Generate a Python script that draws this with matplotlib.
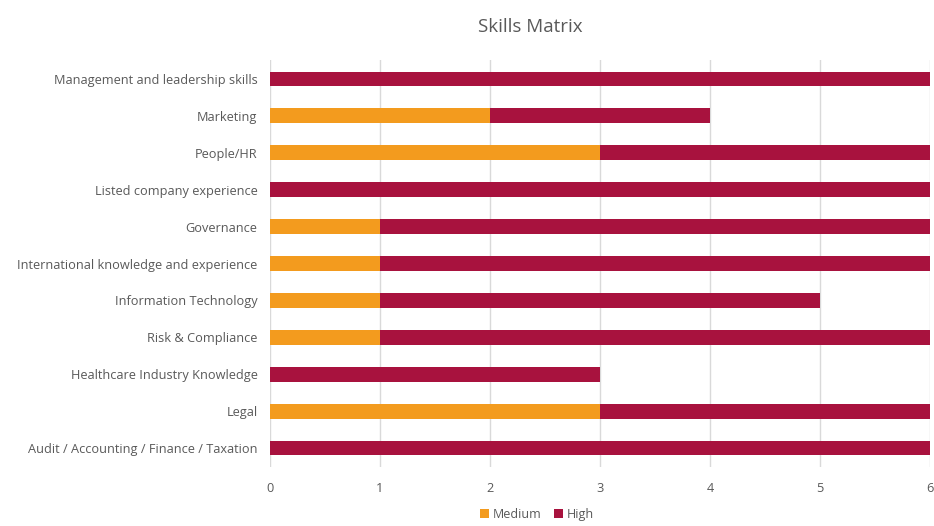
import matplotlib.pyplot as plt
import numpy as np

categories = [
    "Management and leadership skills",
    "Marketing",
    "People/HR",
    "Listed company experience",
    "Governance",
    "International knowledge and experience",
    "Information Technology",
    "Risk & Compliance",
    "Healthcare Industry Knowledge",
    "Legal",
    "Audit / Accounting / Finance / Taxation",
]
medium = [0, 2, 3, 0, 1, 1, 1, 1, 0, 3, 0]
high = [6, 2, 3, 6, 5, 5, 4, 5, 3, 3, 6]

ORANGE = "#F39B1E"
CRIMSON = "#A8123E"
TEXT = "#595959"

plt.rcParams["font.family"] = ["Open Sans", "DejaVu Sans"]

fig = plt.figure(figsize=(9.34, 5.26), dpi=100)
ax = fig.add_axes([0.289, 0.113, 0.7067, 0.772])

y = np.arange(len(categories))
ax.barh(y, medium, height=0.4, color=ORANGE, label="Medium", zorder=3)
ax.barh(y, high, left=medium, height=0.4, color=CRIMSON, label="High", zorder=3)

ax.set_ylim(len(categories) - 0.5, -0.5)
ax.set_xlim(0, 6)
ax.set_xticks(range(7))
ax.set_yticks(y)
ax.set_yticklabels(categories)
ax.tick_params(axis="both", length=0, colors=TEXT, labelsize=9.2)
ax.tick_params(axis="x", pad=11)
ax.tick_params(axis="y", pad=9)
ax.grid(axis="x", color="#D9D9D9", linewidth=1, zorder=0)
for s in ax.spines.values():
    s.set_visible(False)

fig.suptitle("Skills Matrix", x=0.568, y=0.965, fontsize=13.5, color=TEXT)

fig.legend(loc="lower center", bbox_to_anchor=(0.575, -0.012), ncol=2, frameon=False,
           fontsize=9, labelcolor=TEXT, handlelength=0.7, handleheight=0.7,
           handletextpad=0.3, columnspacing=1.0)

fig.savefig("out.png", dpi=100, facecolor="white")
